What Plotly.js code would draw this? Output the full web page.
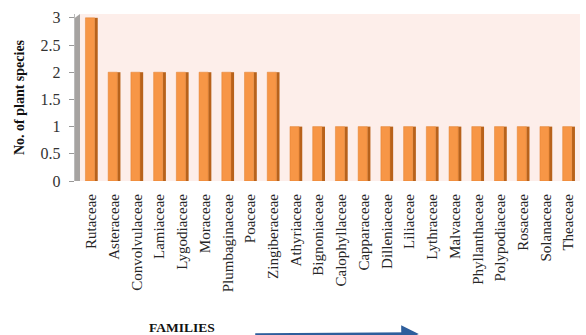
<!DOCTYPE html>
<html><head><meta charset="utf-8">
<script src="https://cdn.plot.ly/plotly-3.0.1.min.js"></script>
<style>html,body{margin:0;padding:0;background:#fff}#c{width:586px;height:335px}</style>
</head><body><div id="c"></div>
<script>
const families = ["Rutaceae","Asteraceae","Convolvulaceae","Lamiaceae","Lygodiaceae","Moraceae","Plumbaginaceae","Poaceae","Zingiberaceae","Athyriaceae","Bignoniaceae","Calophyllaceae","Capparaceae","Dilleniaceae","Liliaceae","Lythraceae","Malvaceae","Phyllanthaceae","Polypodiaceae","Rosaceae","Solanaceae","Theaceae"];
const species = [3,2,2,2,2,2,2,2,2,1,1,1,1,1,1,1,1,1,1,1,1,1];
const yTicks = [0,0.5,1,1.5,2,2.5,3];

const front = {type:'bar', x:families, y:species, width:0.4, offset:-0.26,
  marker:{color:'#F79646', line:{color:'#E07F2C', width:0.5}}, hoverinfo:'x+y'};
const side = {type:'bar', x:families, y:species, width:0.14, offset:0.14,
  marker:{color:'#B8621B', line:{width:0}}, hoverinfo:'skip'};

const layout = {
  width:586, height:335,
  margin:{l:75, r:4, t:14, b:154},
  paper_bgcolor:'#ffffff', plot_bgcolor:'#ffffff',
  barmode:'overlay', showlegend:false,
  font:{family:'"Liberation Serif", "Times New Roman", serif', color:'#262626'},
  xaxis:{type:'category', range:[-0.72, 21.59], tickangle:-90, ticks:'outside', ticklen:6,
    tickcolor:'rgba(0,0,0,0)', showline:false,
    showgrid:false, tickfont:{size:15, color:'#262626'}, automargin:false},
  yaxis:{range:[0,3.07], tickvals:yTicks, ticktext:yTicks.map(v => String(v) + '\u2004'), ticks:'outside', ticklen:5,
    tickcolor:'#999', showline:true, linecolor:'#bbb', showgrid:false, zeroline:false,
    tickfont:{size:16, color:'#333'}, automargin:false,
    title:{text:'<b>No. of plant species</b>', font:{size:14, color:'#111'}, standoff:12}},
  shapes:[
    {type:'rect', layer:'below', xref:'x', yref:'y', x0:-0.5, x1:21.5, y0:0, y1:3.07, fillcolor:'#FDEEEA', line:{width:0}},
    {type:'path', layer:'below', xref:'x', yref:'y', path:'M -0.72,-0.05 L -0.5,0 L -0.5,3.07 L -0.72,3.0 Z', fillcolor:'#A6A3A1', line:{width:0}},
    {type:'path', layer:'below', xref:'x', yref:'y', path:'M -0.72,-0.05 L 21.3,-0.05 L 21.59,0 L -0.5,0 Z', fillcolor:'#A6A3A1', line:{width:0}}
  ],
  annotations:[
    {xref:'paper', yref:'paper', x:0.142, y:-0.88, text:'<b>FAMILIES</b>', showarrow:false, xanchor:'left', yanchor:'middle', font:{size:13.5, color:'#111'}},
    {xref:'paper', yref:'paper', x:0.678, y:-0.955, ax:-165, ay:0, text:'', showarrow:true, arrowhead:2, arrowsize:1, arrowwidth:3.5, arrowcolor:'#2E5E9C'}
  ]
};
Plotly.newPlot('c',[side, front],layout,{displayModeBar:false, staticPlot:true});
</script></body></html>
